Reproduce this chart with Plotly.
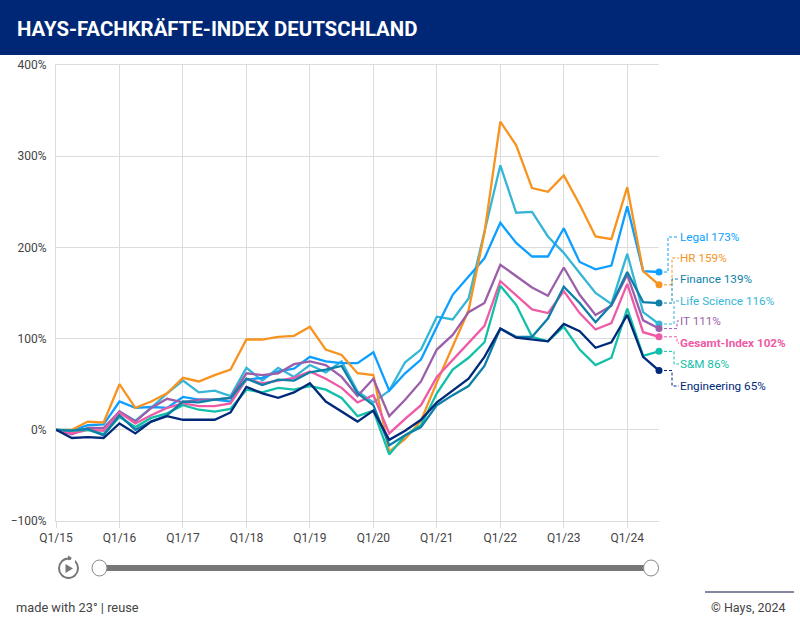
import plotly.graph_objects as go

W, H = 800, 628
L, R, T, B = 56, 659, 65, 521

quarters = [f"Q{q}/{y}" for y in range(15, 25) for q in range(1, 5)][:39]
tick_quarters = [f"Q1/{y}" for y in range(15, 25)]
y_ticks = [-100, 0, 100, 200, 300, 400]
y_labels = ["−100%", "0%", "100%", "200%", "300%", "400%"]

legal = [0, -1, 5, 6, 31, 24, 25, 24, 36, 33, 33, 31, 55, 57, 64, 67, 80, 75, 73, 73, 85, 43, 62, 77, 113, 148, 168, 188, 227, 205, 190, 190, 221, 184, 176, 180, 245, 174, 173]
hr = [0, 0, 9, 8, 50, 24, 31, 40, 57, 53, 60, 66, 99, 99, 102, 103, 113, 88, 82, 62, 60, -24, -10, 10, 52, 92, 131, 216, 338, 312, 265, 261, 279, 247, 212, 209, 266, 174, 159]
finance = [0, -1, 1, -6, 16, 0, 9, 16, 31, 30, 33, 35, 56, 49, 55, 54, 63, 66, 70, 40, 27, -17, -6, 3, 27, 38, 48, 70, 111, 102, 102, 122, 157, 139, 118, 137, 173, 140, 139]
life_science = [0, 0, 1, -5, 20, 10, 24, 40, 54, 41, 43, 37, 68, 54, 68, 58, 71, 63, 75, 42, 30, 43, 74, 88, 124, 121, 144, 216, 290, 238, 239, 212, 194, 172, 150, 138, 193, 129, 116]
it = [0, -5, 2, 2, 20, 9, 24, 34, 30, 33, 33, 35, 62, 60, 62, 72, 75, 71, 58, 37, 56, 15, 33, 53, 88, 104, 129, 139, 181, 168, 156, 147, 178, 148, 126, 136, 170, 120, 111]
gesamt = [0, -4, 0, -1, 19, 7, 16, 24, 29, 26, 26, 29, 56, 51, 54, 57, 64, 56, 46, 30, 38, -4, 12, 27, 58, 77, 95, 114, 163, 147, 132, 128, 152, 128, 110, 117, 160, 107, 102]
s_m = [0, -1, 0, -5, 14, 3, 13, 18, 27, 22, 20, 23, 44, 41, 46, 44, 48, 44, 35, 15, 21, -27, -6, 5, 40, 66, 79, 96, 158, 137, 102, 97, 113, 88, 71, 79, 133, 81, 86]
engineering = [0, -9, -8, -9, 7, -4, 9, 15, 11, 11, 11, 19, 47, 40, 35, 41, 51, 31, 20, 9, 21, -11, -1, 11, 30, 43, 56, 80, 111, 101, 99, 97, 116, 108, 90, 96, 126, 80, 65]

names = ["Life Science", "Legal", "HR", "IT", "Gesamt-Index", "S&M", "Finance", "Engineering"]
series = [life_science, legal, hr, it, gesamt, s_m, finance, engineering]
colors = ["#35b6d6", "#0d9fff", "#f7931e", "#9b5fa9", "#ee5aa6", "#12bfa8", "#0e7fa8", "#00297a"]
label_y = dict(zip(names, [301, 237, 258, 321, 343, 364, 279, 386]))
elbow_x = dict(zip(names, [674, 668, 672, 677, 677, 674, 672, 672]))

def px(x):
    return (x - L) / (R - L)

def py(y):
    return (B - y) / (B - T)

def val_to_y(v):
    return B - (v + 100) / 500 * (B - T)

fig = go.Figure()
for name, vals, c in zip(names, series, colors):
    fig.add_trace(go.Scatter(
        x=quarters, y=vals, name=name, mode="lines+markers",
        line=dict(color=c, width=2.3),
        marker=dict(color=c, size=[0] * 38 + [7], opacity=1, line=dict(width=0)),
        cliponaxis=False, showlegend=False,
        hovertemplate="%{x}: %{y}%<extra>" + name + "</extra>",
    ))

shapes = []
annotations = []

# header band
shapes.append(dict(type="rect", xref="paper", yref="paper", x0=px(0), x1=px(W), y0=py(0), y1=py(55),
                   fillcolor="#002776", line=dict(width=0), layer="below"))
annotations.append(dict(xref="paper", yref="paper", x=px(15), y=py(29), text="<b>HAYS-FACHKRÄFTE-INDEX DEUTSCHLAND</b>",
                        showarrow=False, xanchor="left", yanchor="middle",
                        font=dict(family="Roboto", size=20.4, color="white")))

# end labels and dashed connectors
for name, vals, c in zip(names, series, colors):
    last = vals[-1]
    ym = val_to_y(last)
    yl = label_y[name]
    ex = elbow_x[name]
    shapes.append(dict(type="path", xref="paper", yref="paper",
                       path=f"M {px(R+5)} {py(ym)} L {px(ex)} {py(ym)} L {px(ex)} {py(yl)} L {px(679)} {py(yl)}",
                       line=dict(color=c, width=1, dash="3px,2px")))
    txt = f"{name} {last}%"
    if name == "Gesamt-Index":
        txt = f"<b>{txt}</b>"
    annotations.append(dict(xref="paper", yref="paper", x=px(679), y=py(yl), text=txt, showarrow=False,
                            xanchor="left", yanchor="middle", xshift=-1,
                            font=dict(family="Roboto", size=11.7, color=c)))

# time slider
shapes.append(dict(type="line", xref="paper", yref="paper", x0=px(100), x1=px(651), y0=py(568), y1=py(568),
                   line=dict(color="#777777", width=6)))
for cx in (99.5, 651):
    shapes.append(dict(type="circle", xref="paper", yref="paper", x0=px(cx - 7.5), x1=px(cx + 7.5),
                       y0=py(568 + 8), y1=py(568 - 8), fillcolor="white", line=dict(color="#888888", width=1)))
# play icon: ring, gap, arrow head, triangle
shapes.append(dict(type="circle", xref="paper", yref="paper", x0=px(59), x1=px(78), y0=py(578), y1=py(558.5),
                   fillcolor="rgba(0,0,0,0)", line=dict(color="#777777", width=2)))
shapes.append(dict(type="rect", xref="paper", yref="paper", x0=px(71), x1=px(75), y0=py(562), y1=py(556),
                   fillcolor="white", line=dict(width=0)))
shapes.append(dict(type="path", xref="paper", yref="paper",
                   path=f"M {px(68)} {py(555.5)} L {px(72)} {py(558)} L {px(68)} {py(560.5)} Z",
                   fillcolor="#777777", line=dict(width=0)))
shapes.append(dict(type="path", xref="paper", yref="paper",
                   path=f"M {px(65.5)} {py(564)} L {px(73)} {py(568.5)} L {px(65.5)} {py(573)} Z",
                   fillcolor="#777777", line=dict(width=0)))
# footer
shapes.append(dict(type="line", xref="paper", yref="paper", x0=px(705), x1=px(794), y0=py(592), y1=py(592),
                   line=dict(color="#0a1240", width=1)))
annotations.append(dict(xref="paper", yref="paper", x=px(14), y=py(607), text="made with 23° | reuse", showarrow=False,
                        xanchor="left", yanchor="middle", font=dict(family="Roboto", size=12.8, color="#444444")))
annotations.append(dict(xref="paper", yref="paper", x=px(788), y=py(607), text="© Hays, 2024", showarrow=False,
                        xanchor="right", yanchor="middle", font=dict(family="Roboto", size=12.5, color="#444444")))

fig.update_layout(
    width=W, height=H, autosize=False,
    margin=dict(l=L, r=W - R, t=T, b=H - B, pad=0),
    paper_bgcolor="white", plot_bgcolor="white",
    font=dict(family="Roboto", size=12, color="#444444"),
    shapes=shapes, annotations=annotations, showlegend=False,
    xaxis=dict(type="category", categoryorder="array", categoryarray=quarters,
               range=[0, 38], tickmode="array", tickvals=tick_quarters, ticktext=tick_quarters,
               showgrid=True, gridcolor="#dcdcdc", gridwidth=1, zeroline=False,
               showline=True, mirror=True, linecolor="#dcdcdc", linewidth=1,
               ticks="outside", ticklen=6, tickcolor="#dcdcdc", tickfont=dict(size=12, color="#444444")),
    yaxis=dict(range=[-100, 400], tickmode="array", tickvals=y_ticks, ticktext=y_labels,
               showgrid=True, gridcolor="#dcdcdc", gridwidth=1, zeroline=False,
               showline=True, linecolor="#dcdcdc", linewidth=1,
               ticks="outside", ticklen=6, tickcolor="rgba(0,0,0,0)", tickfont=dict(size=12, color="#444444")),
)
fig.write_html("out.html", config=dict(displayModeBar=False),
               post_script="document.body.style.margin='0';document.documentElement.style.overflow='hidden';")
